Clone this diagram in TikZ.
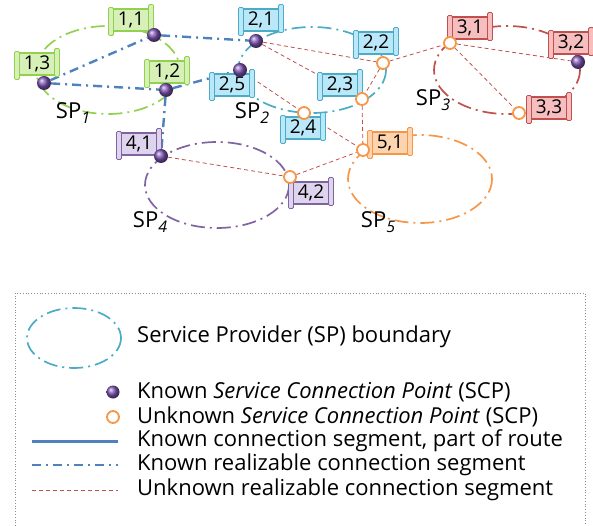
\documentclass[tikz,border=0pt]{standalone}
\usepackage{fontspec}
\setmainfont{Open Sans}
\usetikzlibrary{calc,backgrounds}

\definecolor{spgreen}{RGB}{146,208,80}
\definecolor{spteal}{RGB}{75,172,198}
\definecolor{spred}{RGB}{192,80,77}
\definecolor{sppurple}{RGB}{128,100,162}
\definecolor{sporange}{RGB}{247,150,70}
\definecolor{fillgreen}{RGB}{214,240,184}
\definecolor{fillteal}{RGB}{186,232,248}
\definecolor{fillred}{RGB}{246,190,190}
\definecolor{fillpurple}{RGB}{222,212,238}
\definecolor{fillorange}{RGB}{252,212,176}
\definecolor{segblue}{RGB}{79,129,189}
\definecolor{segred}{RGB}{192,80,77}
\definecolor{scpviolet}{RGB}{125,85,180}

\newcommand{\SPtag}[1]{SP\raisebox{-0.45ex}{\fontsize{16}{16}\selectfont\itshape #1}}
% scroll label: name, position, text, border, fill
\newcommand{\scrolltag}[5]{%
\draw (#2) node [scpbox, draw=#4, fill=#5] (#1) {#3};
\draw [draw=#4, fill=#5, line width=0.8pt, rounded corners=1.2pt] ($(#1.north west)+(-2.5,-1)$) rectangle ($(#1.south west)+(2.5,4)$);
\draw [draw=#4, fill=#5, line width=0.8pt, rounded corners=1.2pt] ($(#1.north east)+(-2.5,-4)$) rectangle ($(#1.south east)+(2.5,1)$);
}

\begin{document}
\begin{tikzpicture}[x=1pt,y=1pt,yscale=-1,xscale=1,
  known/.style={circle, inner sep=0pt, minimum size=14pt, ball color=scpviolet},
  unknown/.style={circle, draw=sporange, line width=1.8pt, fill=white, inner sep=0pt, minimum size=12pt},
  realiz/.style={draw=segblue, line width=2.4pt, dash pattern=on 9pt off 5pt on 2pt off 5pt},
  unkseg/.style={draw=segred, line width=0.8pt, dash pattern=on 4pt off 3pt},
  spline/.style={line width=1.7pt, dash pattern=on 14pt off 5pt on 2pt off 5pt},
  scpbox/.style={line width=1.1pt, inner sep=0pt, minimum width=39pt, minimum height=22pt, font=\fontsize{19}{19}\selectfont},
  sptext/.style={font=\fontsize{22}{22}\selectfont},
  legtext/.style={anchor=west, inner sep=0pt, font=\fontsize{22}{24}\selectfont},
  legbox/.style={draw=black!45, line width=0.8pt, dotted}]
\useasboundingbox (0,0) rectangle (593,526);

%Shape: Ellipse [SP boundaries]
\begin{pgfonlayer}{background}
\draw [spline, spgreen] (108,70) ellipse [x radius=72, y radius=44];
\draw [spline, spteal] (312,70) ellipse [x radius=74, y radius=43];
\draw [spline, spred] (507,70) ellipse [x radius=73, y radius=44];
\draw [spline, sppurple] (217,185) ellipse [x radius=72, y radius=43];
\draw [spline, sporange] (420,179) ellipse [x radius=72, y radius=44];
\end{pgfonlayer}

% Text Node [scroll labels]
\scrolltag{t11}{131,20}{1,1}{spgreen}{fillgreen}
\scrolltag{t12}{167,72}{1,2}{spgreen}{fillgreen}
\scrolltag{t13}{37,64}{1,3}{spgreen}{fillgreen}
\scrolltag{t21}{261,20}{2,1}{spteal}{fillteal}
\scrolltag{t22}{376,43}{2,2}{spteal}{fillteal}
\scrolltag{t23}{340,85}{2,3}{spteal}{fillteal}
\scrolltag{t24}{303,128}{2,4}{spteal}{fillteal}
\scrolltag{t25}{232,85}{2,5}{spteal}{fillteal}
\scrolltag{t31}{470,28}{3,1}{spred}{fillred}
\scrolltag{t32}{571,43}{3,2}{spred}{fillred}
\scrolltag{t33}{549,108}{3,3}{spred}{fillred}
\scrolltag{t41}{139,144}{4,1}{sppurple}{fillpurple}
\scrolltag{t42}{311,193}{4,2}{sppurple}{fillpurple}
\scrolltag{t51}{390,143}{5,1}{sporange}{fillorange}

% Text Node [SP names]
\draw (73,113) node [sptext] (sp1) {\SPtag{1}};
\draw (252,113) node [sptext] (sp2) {\SPtag{2}};
\draw (433,100) node [sptext] (sp3) {\SPtag{3}};
\draw (150,222) node [sptext] (sp4) {\SPtag{4}};
\draw (378,222) node [sptext] (sp5) {\SPtag{5}};

%Shape: Circle [SCPs]
\draw (154,35) node [known] (p11) {};
\draw (166,90) node [known] (p12) {};
\draw (44,83) node [known] (p13) {};
\draw (256,41) node [known] (p21) {};
\draw (383,63) node [unknown] (p22) {};
\draw (362,99) node [unknown] (p23) {};
\draw (304,113) node [unknown] (p24) {};
\draw (240,70) node [known] (p25) {};
\draw (450,43) node [unknown] (p31) {};
\draw (578,62) node [known] (p32) {};
\draw (519,113) node [unknown] (p33) {};
\draw (161,156) node [known] (p41) {};
\draw (290,177) node [unknown] (p42) {};
\draw (363,150) node [unknown] (p51) {};

%Straight Lines [segments]
\begin{pgfonlayer}{background}
\draw [realiz] (p13) -- (p11);
\draw [realiz] (p13) -- (p12);
\draw [realiz] (p11) -- (p21);
\draw [realiz] (p12) -- (p25);
\draw [realiz] (p12) -- (p41);
\draw [unkseg] (p21) -- (p22);
\draw [unkseg] (p21) -- (p23);
\draw [unkseg] (p25) -- (p24);
\draw [unkseg] (p22) -- (p23);
\draw [unkseg] (p22) -- (p31);
\draw [unkseg] (p23) -- (p51);
\draw [unkseg] (p24) -- (p51);
\draw [unkseg] (p31) -- (p32);
\draw [unkseg] (p31) -- (p33);
\draw [unkseg] (p41) -- (p42);
\draw [unkseg] (p42) -- (p51);
\end{pgfonlayer}

% Legend
\draw [legbox] (15,526) -- (15,293) -- (585,293) -- (585,526);
\draw [spline, spteal] (74,338) ellipse [x radius=47, y radius=30];
\draw (137,337) node [legtext] (lg1) {Service Provider (SP) boundary};
\draw (113,392) node [known, minimum size=13pt] (lgk) {};
\draw (137,392) node [legtext] (lg2) {Known \textit{Service Connection Point} (SCP)};
\draw (113,417) node [unknown] (lgu) {};
\draw (137,417) node [legtext] (lg3) {Unknown \textit{Service Connection Point} (SCP)};
\coordinate (s1a) at (32,441);
\coordinate (s1b) at (118,441);
\draw [draw=segblue, line width=3pt] (s1a) -- (s1b);
\draw (137,441) node [legtext] (lg4) {Known connection segment, part of route};
\coordinate (s2a) at (32,465);
\coordinate (s2b) at (118,465);
\draw [realiz] (s2a) -- (s2b);
\draw (137,465) node [legtext] (lg5) {Known realizable connection segment};
\coordinate (s3a) at (32,490);
\coordinate (s3b) at (118,490);
\draw [unkseg] (s3a) -- (s3b);
\draw (137,490) node [legtext] (lg6) {Unknown realizable connection segment};

\end{tikzpicture}
\end{document}
